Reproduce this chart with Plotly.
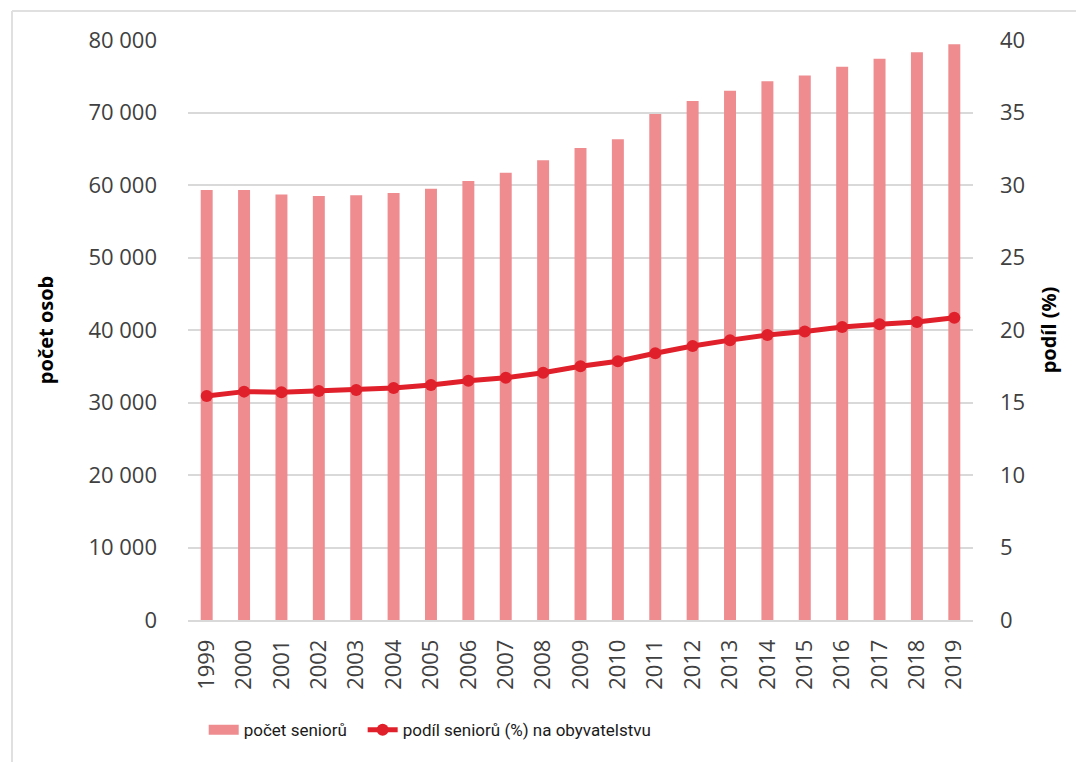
import plotly.graph_objects as go

years = [str(y) for y in range(1999, 2020)]
pocet_senioru = [59300, 59300, 58700, 58500, 58600, 58900, 59500, 60550, 61700, 63400,
                 65100, 66300, 69800, 71600, 73000, 74300, 75100, 76300, 77400, 78300, 79400]
podil_senioru = [15.45, 15.75, 15.7, 15.8, 15.86, 16.0, 16.2, 16.5, 16.7, 17.05,
                 17.5, 17.85, 18.4, 18.9, 19.3, 19.65, 19.9, 20.2, 20.4, 20.55, 20.85]

left_ticks = list(range(0, 80001, 10000))
right_ticks = list(range(0, 41, 5))

BAR_COLOR = "#EE8C90"
LINE_COLOR = "#E0202A"
TICK_COLOR = "#404040"
GRID_COLOR = "#D9D9D9"

fig = go.Figure()
fig.add_trace(go.Bar(
    x=years, y=pocet_senioru, name="počet seniorů",
    marker=dict(color=BAR_COLOR, line=dict(width=0)),
    showlegend=False, yaxis="y",
))
# legend-only entry with a wide patch for the bars
fig.add_trace(go.Scatter(
    x=[None], y=[None], mode="lines", name="počet seniorů",
    line=dict(color=BAR_COLOR, width=14), showlegend=True, legend="legend",
))
fig.add_trace(go.Scatter(
    x=years, y=podil_senioru, name="podíl seniorů (%) na obyvatelstvu",
    mode="lines+markers", yaxis="y2", legend="legend2",
    line=dict(color=LINE_COLOR, width=5),
    marker=dict(color=LINE_COLOR, size=12),
))

legend_font = dict(family="Roboto, Open Sans, sans-serif", size=17, color="#1a1a1a")

fig.update_layout(
    width=1076, height=754,
    margin=dict(l=180, r=111, t=32, b=142),
    paper_bgcolor="white", plot_bgcolor="white",
    separators=", ",
    font=dict(family="Open Sans, DejaVu Sans, sans-serif", color=TICK_COLOR, size=22),
    bargap=0.68,
    showlegend=True,
    legend=dict(
        orientation="h", x=0.02, y=-0.19, xanchor="left", yanchor="middle",
        font=legend_font, itemwidth=30, bgcolor="rgba(0,0,0,0)",
    ),
    legend2=dict(
        orientation="h", x=0.2225, y=-0.19, xanchor="left", yanchor="middle",
        font=legend_font, itemwidth=30, bgcolor="rgba(0,0,0,0)",
    ),
    xaxis=dict(
        type="category", range=[-0.5, 20.5], tickangle=-90, showgrid=False, zeroline=False,
        showline=True, linecolor=GRID_COLOR, linewidth=1.5,
        ticks="", ticklabelstandoff=9,
        tickfont=dict(size=22, color=TICK_COLOR),
    ),
    yaxis=dict(
        range=[0, 80000], tickvals=left_ticks, tickformat=",d",
        showgrid=True, gridcolor=GRID_COLOR, gridwidth=1.5,
        zeroline=False, showline=False, ticks="", ticklabelstandoff=30,
        tickfont=dict(size=22, color=TICK_COLOR),
    ),
    yaxis2=dict(
        range=[0, 40], tickvals=right_ticks, overlaying="y", side="right",
        showgrid=False, zeroline=False, showline=False, ticks="", ticklabelstandoff=26,
        tickfont=dict(size=22, color=TICK_COLOR),
    ),
    annotations=[
        dict(text="<b>počet osob</b>", x=-0.182, y=0.5, xref="paper", yref="paper",
             textangle=-90, showarrow=False, font=dict(size=20, color="black"),
             xanchor="center", yanchor="middle"),
        dict(text="<b>podíl (%)</b>", x=1.096, y=0.5, xref="paper", yref="paper",
             textangle=-90, showarrow=False, font=dict(size=20, color="black"),
             xanchor="center", yanchor="middle"),
    ],
    shapes=[
        dict(type="line", xref="paper", yref="paper", x0=-0.2242, x1=1.15, y0=1.05, y1=1.05,
             line=dict(color="#E0E0E0", width=2)),
        dict(type="line", xref="paper", yref="paper", x0=-0.2242, x1=-0.2242, y0=-0.26, y1=1.05,
             line=dict(color="#E0E0E0", width=2)),
    ],
)

fig.write_html("out.html")
